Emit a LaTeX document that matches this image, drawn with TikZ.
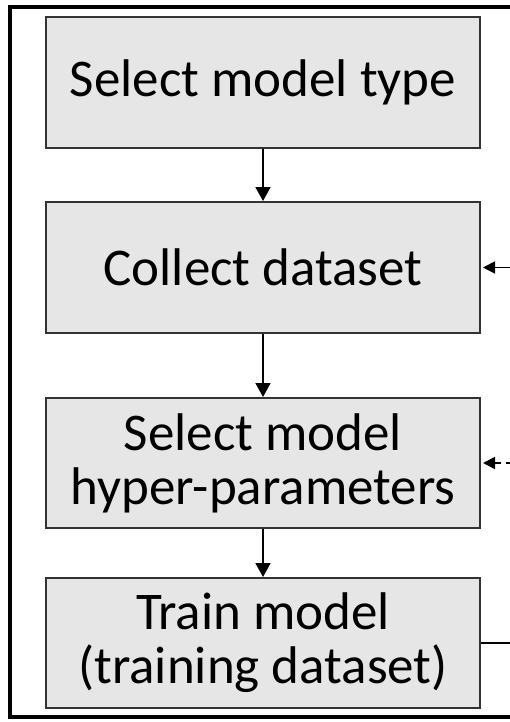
\documentclass[tikz,border=0pt]{standalone}
\usepackage{fontspec}
\setmainfont{Carlito}
\usetikzlibrary{arrows.meta}
\definecolor{boxfill}{HTML}{E6E6E6}
\definecolor{boxline}{HTML}{333333}
\tikzset{
  stagebox/.style={draw=boxline, fill=boxfill, line width=2pt,
    minimum width=434pt, minimum height=131pt, inner sep=0pt,
    align=center, font=\fontsize{53}{54}\selectfont},
  flow/.style={line width=1.8pt, -{Triangle[length=14pt,width=15pt]}},
  feedin/.style={line width=1.8pt, -{Triangle[length=12pt,width=12pt]}},
}
\begin{document}
\begin{tikzpicture}[x=1pt,y=1pt]
  \useasboundingbox (0,0) rectangle (510,-722);
  \clip (0,0) rectangle (510,-722);
  % outer frame, running past the right edge
  \draw[line width=3.2pt] (560,-7) -- (10,-7) -- (10,-717) -- (560,-717);

  \node[stagebox] (select) at (263,-82.5) {Select model type};
  \node[stagebox] (collect) at (263,-267.5) {Collect dataset};
  \node[stagebox, minimum height=130pt] (hyper) at (263,-463) {Select model\\hyper-parameters};
  \node[stagebox, minimum height=130pt] (train) at (263,-643) {Train model\\(training dataset)};

  \draw[flow] (select) -- (collect);
  \draw[flow] (collect) -- (hyper);
  \draw[flow] (hyper) -- (train);

  % returns entering from the right
  \coordinate (r2) at (515,-267.5);
  \coordinate (r3) at (515,-463);
  \coordinate (r4) at (515,-643);
  \draw[feedin] (r2) -- ([xshift=2pt]collect.east);
  \draw[feedin, dash pattern=on 9pt off 5pt] (r3) -- ([xshift=2pt]hyper.east);
  \draw[line width=1.8pt] (train.east) -- (r4);
\end{tikzpicture}
\end{document}
